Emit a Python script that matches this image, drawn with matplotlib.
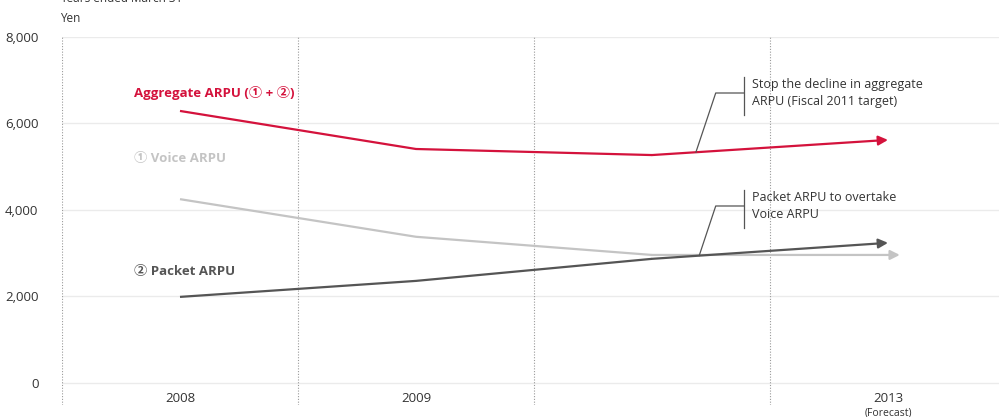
import numpy as np
import matplotlib
matplotlib.use("Agg")
import matplotlib.pyplot as plt

# data (yen), years ended March 31
years = ["2008", "2009", "", "2013"]
aggregate = [6290, 5410, 5270, 5620]
voice = [4250, 3380, 2960, 2960]
packet = [1990, 2360, 2870, 3240]
yticks = [0, 2000, 4000, 6000, 8000]

RED = "#d4123c"
LIGHT = "#c4c4c4"
DARK = "#555555"
TXT = "#333333"

plt.rcParams['font.family'] = ['Open Sans', 'Noto Sans CJK JP', 'DejaVu Sans']

fig = plt.figure(figsize=(9.99, 4.17), dpi=100)
ax = fig.add_axes([62 / 999, 12 / 417, 937 / 999, 368 / 417])

x = np.arange(len(years))
ax.set_xlim(-0.5, -0.5 + 937 / 236)
ax.set_ylim(-510, 8000)

# horizontal grid
for v in yticks:
    ax.axhline(v, xmin=0, xmax=1, color="#ebebeb", lw=1, zorder=0)
# category separators (dotted)
for b in np.arange(len(years)) - 0.5:
    ax.axvline(b, color="#9a9a9a", lw=0.8, ls=(0, (1, 1.5)), zorder=0)

def series(vals, color, lw, tip_extra=0.0):
    ax.plot(x[:-1], vals[:-1], color=color, lw=lw, solid_capstyle="butt", zorder=3)
    ax.annotate("", xy=(x[-1] + tip_extra, vals[-1]), xytext=(x[-2], vals[-2]),
                arrowprops=dict(arrowstyle="-|>", color=color, lw=lw,
                                shrinkA=0, shrinkB=0, mutation_scale=14),
                zorder=3)

series(voice, LIGHT, 1.6, tip_extra=0.05)
series(packet, DARK, 1.6)
series(aggregate, RED, 1.6)

# series labels
ax.text(-0.195, 6705, "Aggregate ARPU (① + ②)", color=RED, fontsize=9.5,
        fontweight="bold", va="center", ha="left")
ax.text(-0.195, 5180, "① Voice ARPU", color=LIGHT, fontsize=9.5,
        fontweight="bold", va="center", ha="left")
ax.text(-0.195, 2566, "② Packet ARPU", color=DARK, fontsize=9.5,
        fontweight="bold", va="center", ha="left")

# callouts
def callout(x0, vals, y_corner, y_bar, lines):
    y0 = np.interp(x0, x, vals)
    ax.plot([x0, 2.27, 2.389], [y0, y_corner, y_corner], color=DARK, lw=0.9, zorder=4)
    ax.plot([2.389, 2.389], [y_bar[0], y_bar[1]], color=DARK, lw=0.9, zorder=4)
    ax.text(2.423, y_corner, "\n".join(lines), color=TXT, fontsize=9,
            va="center", ha="left", linespacing=1.45)

callout(2.186, aggregate, 6705, (6197, 7075),
        ["Stop the decline in aggregate", "ARPU (Fiscal 2011 target)"])
callout(2.20, packet, 4092, (3584, 4462),
        ["Packet ARPU to overtake", "Voice ARPU"])

# axes styling
ax.set_yticks(yticks)
ax.set_yticklabels([f"{v:,}" for v in yticks], color=TXT, fontsize=9.5)
ax.tick_params(axis="y", length=0, pad=17)
ax.set_xticks([])
for s in ax.spines.values():
    s.set_visible(False)

for xi, lab in zip(x, years):
    if lab:
        ax.text(xi, -370, lab, color=TXT, fontsize=9.5, ha="center", va="center")
ax.text(3, -700, "(Forecast)", color=TXT, fontsize=7.5, ha="center", va="center",
        clip_on=False)

fig.text(60 / 999, 1 - 18 / 417, "Yen", color=TXT, fontsize=8.5, va="center", ha="left")
fig.text(60 / 999, 1 - 5 / 417, "Years ended March 31", color=TXT, fontsize=8.5,
         va="bottom", ha="left")

fig.savefig("out.png", dpi=100)
